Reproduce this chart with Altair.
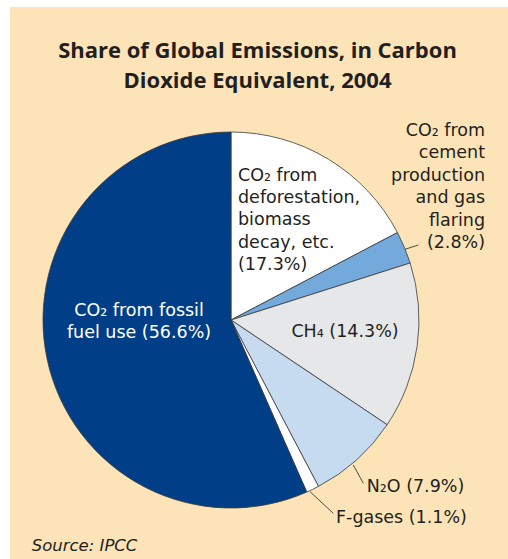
import altair as alt
import pandas as pd

# Emission sources, clockwise from 12 o'clock
keys = ["deforestation", "cement", "ch4", "n2o", "fgases", "fossil"]
names = [
    "CO₂ from deforestation, biomass decay, etc.",
    "CO₂ from cement production and gas flaring",
    "CH₄",
    "N₂O",
    "F-gases",
    "CO₂ from fossil fuel use",
]
shares = [17.3, 2.8, 14.3, 7.9, 1.1, 56.6]
colors = ["#FFFFFF", "#74A9DB", "#E6E7E9", "#C6DAF0", "#FFFFFF", "#003F87"]

# Slice labels (line breaks as drawn)
label_lines = [
    ["CO₂ from", "deforestation,", "biomass", "decay, etc."],
    ["CO₂ from", "cement", "production", "and gas", "flaring"],
    ["CH₄"],
    ["N₂O"],
    ["F-gases"],
    ["CO₂ from fossil", "fuel use"],
]

BG = "#FCE4B8"
INK = "#231F20"
TITLE_FONT = "Open Sans"
FONT = "DejaVu Sans"
FS = 17.5
W, H = 498, 552
CX, CY, R = 221, 313, 188

df = pd.DataFrame({"key": keys, "source": names, "share": shares, "idx": range(len(keys))})


def label_text(lines, share):
    pct = f"({share}%)"
    if len(lines) == 1 or lines[-1] == "fuel use":
        lines = lines[:-1] + [lines[-1] + " " + pct]
    else:
        lines = lines + [pct]
    return "\n".join(lines)


df["label"] = [label_text(l, s) for l, s in zip(label_lines, shares)]

pie = (
    alt.Chart(df)
    .mark_arc(radius=R, stroke="#3A3A3A", strokeWidth=0.8)
    .encode(
        theta=alt.Theta("share:Q", stack=True),
        order=alt.Order("idx:Q"),
        color=alt.Color("source:N", scale=alt.Scale(domain=names, range=colors), legend=None),
        x=alt.value(CX),
        y=alt.value(CY),
    )
)

# Label placement: key -> (x, first baseline y, align, colour, line height)
placement = {
    "deforestation": (228, 173.5, "left", INK, 22.4),
    "cement": (475, 128.5, "right", INK, 22.5),
    "ch4": (335, 330.3, "center", INK, 22),
    "n2o": (356.7, 484.7, "left", INK, 22),
    "fgases": (326, 515.7, "left", INK, 22),
    "fossil": (129, 309, "center", "#FFFFFF", 21.5),
}

layers = [pie]
for k, (lx, ly, al, col, lh) in placement.items():
    layers.append(
        alt.Chart(df)
        .transform_filter(alt.datum.key == k)
        .mark_text(
            align=al, baseline="alphabetic", font=FONT, fontSize=FS,
            color=col, lineBreak="\n", lineHeight=lh,
        )
        .encode(x=alt.value(lx), y=alt.value(ly), text="label:N")
    )

# Leader lines
leaders = [
    ((395, 242.3), (408.3, 238)),
    ((343.3, 458), (353.3, 476.3)),
    ((300, 484.7), (323.3, 506.3)),
]
for (x1, y1), (x2, y2) in leaders:
    layers.append(
        alt.Chart(df.head(1))
        .mark_rule(color="#3A3A3A", strokeWidth=0.9)
        .encode(x=alt.value(x1), y=alt.value(y1), x2=alt.value(x2), y2=alt.value(y2))
    )

title_df = pd.DataFrame({"t": ["Share of Global Emissions, in Carbon\nDioxide Equivalent, 2004"]})
title = (
    alt.Chart(title_df)
    .mark_text(
        align="center", baseline="alphabetic", font=TITLE_FONT, fontSize=22,
        fontWeight="bold", color=INK, lineBreak="\n", lineHeight=30,
    )
    .encode(x=alt.value(247.5), y=alt.value(51.3), text="t:N")
)

source_df = pd.DataFrame({"t": ["Source: IPCC"]})
source = (
    alt.Chart(source_df)
    .mark_text(
        align="left", baseline="alphabetic", font=FONT, fontSize=16.5,
        fontStyle="italic", color=INK,
    )
    .encode(x=alt.value(21.7), y=alt.value(543.7), text="t:N")
)

chart = (
    alt.layer(*layers, title, source)
    .properties(
        width=W,
        height=H,
        autosize=alt.AutoSizeParams(type="none"),
        padding={"left": 10, "top": 7, "right": 0, "bottom": 0},
        background="#FFFFFF",
    )
    .configure_view(fill=BG, strokeWidth=0)
)

chart.save("out.html", embed_options={"renderer": "svg", "actions": False})
